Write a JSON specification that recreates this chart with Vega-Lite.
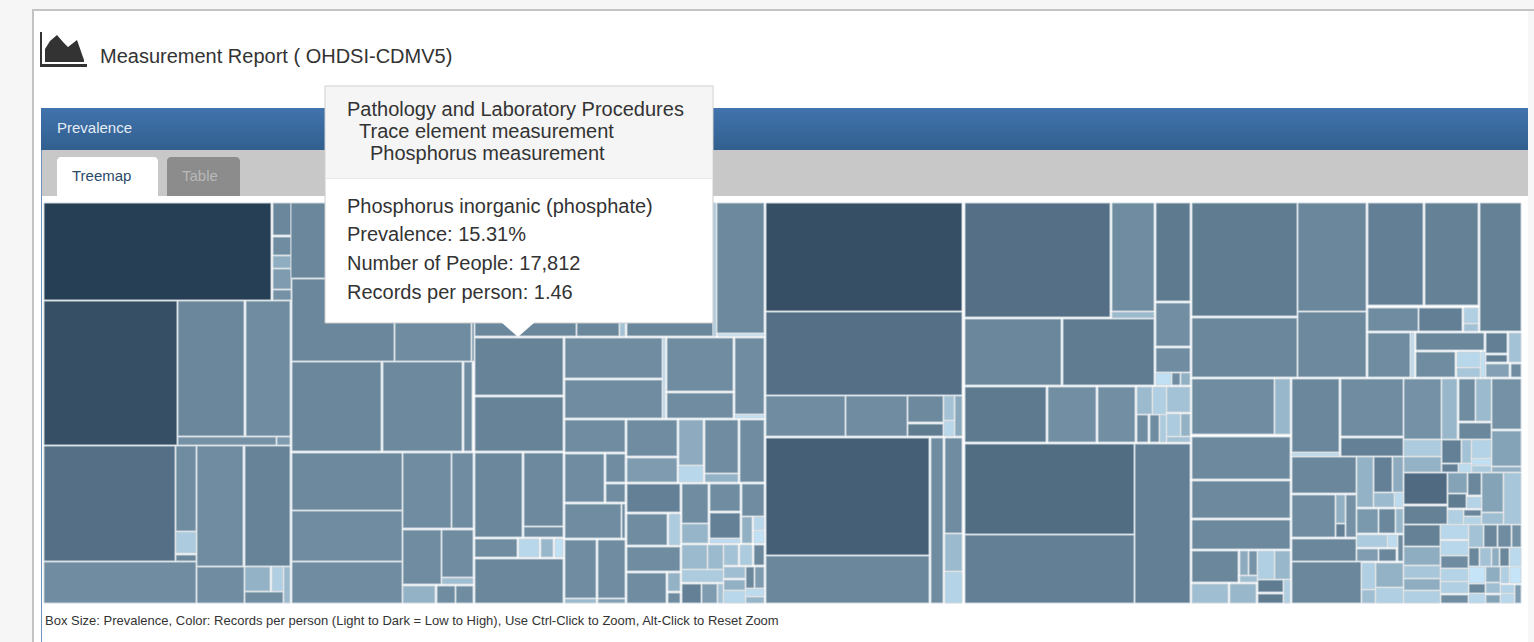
{"$schema":"https://vega.github.io/schema/vega-lite/v6.json","autosize":{"type":"fit","contains":"padding"},"width":1534,"height":642,"padding":0,"background":"#ffffff","config":{"view":{"stroke":null},"text":{"font":"Liberation Sans"}},
"datasets":{"cells":[
{"left":44,"right":271,"top":203,"bottom":300,"records":8},
{"left":273,"right":291,"top":203,"bottom":235,"records":4},{"left":273,"right":291,"top":237,"bottom":255,"records":3.8},{"left":273,"right":291,"top":256,"bottom":268,"records":2.5},{"left":273,"right":291,"top":269,"bottom":289,"records":3.2},{"left":273,"right":291,"top":290,"bottom":300,"records":3.6},
{"left":44,"right":177,"top":301,"bottom":445,"records":7.05},{"left":178,"right":244,"top":301,"bottom":436,"records":4},{"left":246,"right":290,"top":301,"bottom":436,"records":3.8},{"left":178,"right":276,"top":437,"bottom":445,"records":3.6},{"left":277,"right":290,"top":437,"bottom":445,"records":3.2},
{"left":44,"right":175,"top":446,"bottom":561,"records":5.2},{"left":176,"right":196,"top":446,"bottom":531,"records":3.8},{"left":176,"right":196,"top":532,"bottom":553,"records":1.6},{"left":176,"right":196,"top":555,"bottom":561,"records":4},{"left":44,"right":196,"top":562,"bottom":603,"records":3.8},
{"left":197,"right":243,"top":446,"bottom":566,"records":3.8},{"left":245,"right":290,"top":446,"bottom":566,"records":4.2},{"left":197,"right":244,"top":567,"bottom":603,"records":3.8},{"left":245,"right":270,"top":567,"bottom":591,"records":2.3},{"left":272,"right":283,"top":567,"bottom":591,"records":1.5},{"left":245,"right":283,"top":592,"bottom":603,"records":3.8},{"left":284,"right":290,"top":567,"bottom":603,"records":2},
{"left":291,"right":393,"top":203,"bottom":278,"records":4},{"left":393,"right":472,"top":203,"bottom":278,"records":4},{"left":292,"right":394,"top":279,"bottom":361,"records":4},{"left":395,"right":471,"top":279,"bottom":361,"records":3.8},{"left":472,"right":474,"top":279,"bottom":361,"records":3.8},
{"left":292,"right":381,"top":362,"bottom":451,"records":4},{"left":383,"right":462,"top":362,"bottom":451,"records":3.9},{"left":464,"right":472,"top":362,"bottom":451,"records":3.8},
{"left":292,"right":402,"top":453,"bottom":510,"records":3.9},{"left":292,"right":402,"top":511,"bottom":561,"records":3.8},{"left":292,"right":402,"top":562,"bottom":603,"records":3.8},
{"left":403,"right":451,"top":453,"bottom":528,"records":3.8},{"left":452,"right":473,"top":453,"bottom":528,"records":3.8},{"left":403,"right":441,"top":530,"bottom":584,"records":3.8},{"left":442,"right":473,"top":530,"bottom":577,"records":3.8},{"left":442,"right":473,"top":578,"bottom":584,"records":1.9},{"left":403,"right":435,"top":586,"bottom":603,"records":2.3},{"left":437,"right":455,"top":586,"bottom":603,"records":3.8},{"left":456,"right":473,"top":586,"bottom":603,"records":3.8},
{"left":475,"right":576,"top":203,"bottom":336,"records":4},{"left":577,"right":619,"top":203,"bottom":336,"records":4},{"left":620,"right":625,"top":203,"bottom":336,"records":1.8},{"left":627,"right":713,"top":203,"bottom":336,"records":4},{"left":713,"right":716,"top":203,"bottom":336,"records":1.6},{"left":717,"right":764,"top":203,"bottom":333,"records":3.9},{"left":718,"right":764,"top":334,"bottom":336,"records":1},
{"left":475,"right":563,"top":338,"bottom":395,"records":4.2},{"left":475,"right":563,"top":397,"bottom":451,"records":4.2},{"left":475,"right":522,"top":453,"bottom":537,"records":4},{"left":524,"right":563,"top":453,"bottom":526,"records":3.9},{"left":524,"right":563,"top":527,"bottom":537,"records":3.8},{"left":475,"right":517,"top":539,"bottom":557,"records":3.8},{"left":519,"right":539,"top":539,"bottom":557,"records":1.3},{"left":541,"right":553,"top":539,"bottom":557,"records":2.1},{"left":555,"right":563,"top":539,"bottom":557,"records":1.1},{"left":475,"right":563,"top":559,"bottom":603,"records":4},
{"left":565,"right":662,"top":338,"bottom":378,"records":3.8},{"left":565,"right":662,"top":380,"bottom":418,"records":3.8},{"left":663,"right":665,"top":338,"bottom":418,"records":1.2},{"left":667,"right":733,"top":338,"bottom":391,"records":3.8},{"left":667,"right":733,"top":393,"bottom":418,"records":3.8},{"left":735,"right":764,"top":338,"bottom":414,"records":3.8},{"left":735,"right":764,"top":415,"bottom":418,"records":1.1},
{"left":565,"right":625,"top":420,"bottom":452,"records":3.8},{"left":565,"right":604,"top":454,"bottom":502,"records":3.8},{"left":606,"right":625,"top":454,"bottom":482,"records":3.8},{"left":606,"right":625,"top":484,"bottom":502,"records":3.8},{"left":565,"right":621,"top":504,"bottom":538,"records":3.8},{"left":622,"right":625,"top":504,"bottom":538,"records":3.8},{"left":565,"right":596,"top":540,"bottom":598,"records":3.8},{"left":598,"right":625,"top":540,"bottom":598,"records":3.8},{"left":565,"right":596,"top":599,"bottom":603,"records":2},{"left":598,"right":625,"top":599,"bottom":603,"records":3},
{"left":627,"right":677,"top":420,"bottom":456,"records":3.8},{"left":627,"right":677,"top":458,"bottom":482,"records":3.2},{"left":679,"right":703,"top":420,"bottom":465,"records":2.6},{"left":679,"right":703,"top":466,"bottom":482,"records":1.3},{"left":705,"right":738,"top":420,"bottom":473,"records":3.8},{"left":705,"right":738,"top":474,"bottom":482,"records":2.3},{"left":740,"right":764,"top":420,"bottom":482,"records":3.8},
{"left":627,"right":680,"top":484,"bottom":512,"records":4.35},{"left":627,"right":667,"top":514,"bottom":545,"records":3.8},{"left":669,"right":680,"top":514,"bottom":545,"records":1.6},{"left":627,"right":680,"top":547,"bottom":571,"records":3.8},{"left":627,"right":666,"top":573,"bottom":603,"records":3.8},{"left":668,"right":680,"top":573,"bottom":591,"records":2.3},{"left":668,"right":680,"top":593,"bottom":603,"records":3.8},
{"left":682,"right":708,"top":484,"bottom":523,"records":3.8},{"left":682,"right":708,"top":524,"bottom":543,"records":2.2},{"left":710,"right":740,"top":484,"bottom":511,"records":3.8},{"left":710,"right":740,"top":513,"bottom":538,"records":4.35},{"left":710,"right":740,"top":539,"bottom":543,"records":1.2},{"left":742,"right":764,"top":484,"bottom":516,"records":3.8},{"left":742,"right":752,"top":517,"bottom":543,"records":2.4},{"left":754,"right":764,"top":517,"bottom":530,"records":1.3},{"left":754,"right":764,"top":531,"bottom":543,"records":1.1},
{"left":682,"right":707,"top":545,"bottom":569,"records":2},{"left":708,"right":723,"top":545,"bottom":569,"records":2},{"left":724,"right":738,"top":545,"bottom":565,"records":1.8},{"left":740,"right":752,"top":545,"bottom":565,"records":1.6},{"left":754,"right":764,"top":545,"bottom":565,"records":4},{"left":682,"right":723,"top":570,"bottom":582,"records":1.6},{"left":682,"right":701,"top":584,"bottom":603,"records":4.35},{"left":702,"right":717,"top":584,"bottom":603,"records":3.2},{"left":718,"right":723,"top":584,"bottom":603,"records":1.8},{"left":724,"right":745,"top":567,"bottom":578,"records":1.9},{"left":724,"right":745,"top":580,"bottom":590,"records":2.4},{"left":724,"right":745,"top":591,"bottom":603,"records":1.3},{"left":746,"right":754,"top":567,"bottom":588,"records":4},{"left":755,"right":764,"top":567,"bottom":588,"records":3.2},{"left":746,"right":764,"top":589,"bottom":596,"records":1.2},{"left":746,"right":764,"top":597,"bottom":603,"records":2.2},
{"left":766,"right":962,"top":203,"bottom":311,"records":7.05},{"left":766,"right":962,"top":312,"bottom":395,"records":5.2},{"left":766,"right":845,"top":396,"bottom":436,"records":3.8},{"left":846,"right":907,"top":396,"bottom":436,"records":3.8},{"left":908,"right":943,"top":396,"bottom":422,"records":3.9},{"left":908,"right":943,"top":424,"bottom":436,"records":4.6},{"left":944,"right":954,"top":396,"bottom":420,"records":1.8},{"left":944,"right":954,"top":421,"bottom":436,"records":1.3},{"left":955,"right":962,"top":396,"bottom":436,"records":2.7},
{"left":766,"right":929,"top":438,"bottom":555,"records":6.1},{"left":766,"right":929,"top":556,"bottom":603,"records":4},{"left":931,"right":943,"top":438,"bottom":603,"records":3.8},{"left":945,"right":962,"top":438,"bottom":533,"records":3.8},{"left":945,"right":962,"top":534,"bottom":571,"records":2},{"left":945,"right":962,"top":572,"bottom":603,"records":1.4},
{"left":965,"right":1110,"top":203,"bottom":317,"records":5.2},{"left":1112,"right":1154,"top":203,"bottom":311,"records":3.8},{"left":1112,"right":1154,"top":312,"bottom":318,"records":2},{"left":1156,"right":1190,"top":203,"bottom":301,"records":4.7},{"left":1156,"right":1190,"top":303,"bottom":346,"records":3.7},{"left":1156,"right":1190,"top":348,"bottom":372,"records":3.8},{"left":1156,"right":1171,"top":373,"bottom":385,"records":1.1},{"left":1172,"right":1180,"top":373,"bottom":385,"records":3.8},{"left":1181,"right":1190,"top":373,"bottom":385,"records":2.4},
{"left":965,"right":1061,"top":319,"bottom":385,"records":4},{"left":1063,"right":1154,"top":319,"bottom":385,"records":4.6},{"left":965,"right":1046,"top":387,"bottom":442,"records":4.7},{"left":1048,"right":1096,"top":387,"bottom":442,"records":3.7},{"left":1098,"right":1135,"top":387,"bottom":442,"records":3.7},{"left":1137,"right":1152,"top":387,"bottom":414,"records":2},{"left":1153,"right":1166,"top":387,"bottom":414,"records":1.5},{"left":1167,"right":1190,"top":387,"bottom":412,"records":1.8},{"left":1137,"right":1148,"top":415,"bottom":442,"records":3.8},{"left":1150,"right":1159,"top":415,"bottom":442,"records":3.8},{"left":1160,"right":1166,"top":415,"bottom":442,"records":1.6},{"left":1167,"right":1180,"top":414,"bottom":436,"records":1.6},{"left":1181,"right":1190,"top":414,"bottom":436,"records":2.3},{"left":1167,"right":1190,"top":437,"bottom":442,"records":1.8},
{"left":965,"right":1134,"top":444,"bottom":534,"records":5.4},{"left":965,"right":1134,"top":535,"bottom":603,"records":4.4},{"left":1135,"right":1190,"top":444,"bottom":603,"records":4.4},
{"left":1192,"right":1297,"top":203,"bottom":316,"records":4.6},{"left":1192,"right":1297,"top":318,"bottom":377,"records":4},{"left":1298,"right":1366,"top":203,"bottom":311,"records":4},{"left":1298,"right":1366,"top":312,"bottom":377,"records":3.9},{"left":1368,"right":1423,"top":203,"bottom":305,"records":4.4},{"left":1425,"right":1478,"top":203,"bottom":305,"records":4.3},{"left":1480,"right":1521,"top":203,"bottom":331,"records":4.3},{"left":1368,"right":1418,"top":308,"bottom":331,"records":3.8},{"left":1419,"right":1462,"top":308,"bottom":331,"records":4.4},{"left":1464,"right":1478,"top":308,"bottom":323,"records":1.5},{"left":1464,"right":1478,"top":324,"bottom":331,"records":1.8},
{"left":1368,"right":1410,"top":333,"bottom":377,"records":3.8},{"left":1411,"right":1414,"top":333,"bottom":377,"records":1.2},{"left":1416,"right":1484,"top":333,"bottom":350,"records":4},{"left":1416,"right":1455,"top":352,"bottom":377,"records":3.8},{"left":1457,"right":1480,"top":352,"bottom":367,"records":1.3},{"left":1457,"right":1480,"top":368,"bottom":377,"records":1.7},{"left":1481,"right":1485,"top":352,"bottom":377,"records":1.1},{"left":1486,"right":1507,"top":333,"bottom":353,"records":4.4},{"left":1486,"right":1507,"top":355,"bottom":362,"records":4.4},{"left":1509,"right":1521,"top":333,"bottom":362,"records":1.8},{"left":1486,"right":1509,"top":364,"bottom":377,"records":3},{"left":1511,"right":1521,"top":364,"bottom":377,"records":3.8},
{"left":1192,"right":1274,"top":379,"bottom":434,"records":3.8},{"left":1275,"right":1290,"top":379,"bottom":434,"records":2.1},{"left":1192,"right":1290,"top":437,"bottom":479,"records":3.9},{"left":1192,"right":1290,"top":481,"bottom":518,"records":3.9},{"left":1192,"right":1290,"top":520,"bottom":549,"records":3.9},{"left":1192,"right":1238,"top":551,"bottom":582,"records":4},{"left":1240,"right":1248,"top":551,"bottom":575,"records":2.6},{"left":1249,"right":1257,"top":551,"bottom":575,"records":3.5},{"left":1240,"right":1257,"top":576,"bottom":582,"records":1.9},{"left":1192,"right":1228,"top":584,"bottom":603,"records":1.9},{"left":1230,"right":1256,"top":584,"bottom":603,"records":2.1},{"left":1258,"right":1274,"top":551,"bottom":579,"records":1.5},{"left":1275,"right":1290,"top":551,"bottom":579,"records":2.1},{"left":1258,"right":1283,"top":580,"bottom":592,"records":4.6},{"left":1258,"right":1283,"top":594,"bottom":603,"records":4.6},{"left":1284,"right":1290,"top":580,"bottom":603,"records":1.5},
{"left":1292,"right":1339,"top":379,"bottom":452,"records":4},{"left":1292,"right":1339,"top":453,"bottom":456,"records":1.2},{"left":1341,"right":1403,"top":379,"bottom":436,"records":3.8},{"left":1341,"right":1403,"top":438,"bottom":456,"records":4.35},{"left":1292,"right":1356,"top":457,"bottom":493,"records":4},{"left":1292,"right":1335,"top":495,"bottom":537,"records":3.8},{"left":1336,"right":1345,"top":495,"bottom":523,"records":2.4},{"left":1336,"right":1345,"top":524,"bottom":537,"records":4.35},{"left":1346,"right":1356,"top":495,"bottom":537,"records":3.6},{"left":1292,"right":1356,"top":539,"bottom":561,"records":4},{"left":1292,"right":1361,"top":562,"bottom":603,"records":4},
{"left":1357,"right":1373,"top":457,"bottom":507,"records":2.3},{"left":1374,"right":1392,"top":457,"bottom":492,"records":4.35},{"left":1393,"right":1403,"top":457,"bottom":492,"records":2.6},{"left":1374,"right":1394,"top":493,"bottom":507,"records":2},{"left":1395,"right":1403,"top":493,"bottom":507,"records":1.2},{"left":1357,"right":1378,"top":509,"bottom":533,"records":3.3},{"left":1379,"right":1395,"top":509,"bottom":533,"records":4},{"left":1396,"right":1403,"top":509,"bottom":533,"records":2.1},{"left":1357,"right":1387,"top":535,"bottom":547,"records":1.6},{"left":1388,"right":1397,"top":535,"bottom":547,"records":1.2},{"left":1398,"right":1403,"top":535,"bottom":561,"records":3.8},{"left":1357,"right":1378,"top":549,"bottom":561,"records":3.15},{"left":1379,"right":1396,"top":549,"bottom":561,"records":4},{"left":1362,"right":1375,"top":563,"bottom":589,"records":1.5},{"left":1362,"right":1375,"top":590,"bottom":603,"records":1.9},{"left":1376,"right":1403,"top":563,"bottom":587,"records":2.3},{"left":1376,"right":1403,"top":588,"bottom":603,"records":1.5},
{"left":1404,"right":1441,"top":379,"bottom":439,"records":3.6},{"left":1442,"right":1457,"top":379,"bottom":439,"records":2.1},{"left":1459,"right":1475,"top":379,"bottom":421,"records":3.8},{"left":1476,"right":1491,"top":379,"bottom":421,"records":2},{"left":1459,"right":1491,"top":423,"bottom":439,"records":4},{"left":1492,"right":1521,"top":379,"bottom":429,"records":3.6},{"left":1492,"right":1521,"top":431,"bottom":466,"records":2.9},{"left":1492,"right":1521,"top":467,"bottom":472,"records":2.4},
{"left":1404,"right":1441,"top":440,"bottom":456,"records":1.6},{"left":1404,"right":1441,"top":457,"bottom":472,"records":2.3},{"left":1442,"right":1461,"top":440,"bottom":463,"records":4.35},{"left":1462,"right":1471,"top":440,"bottom":463,"records":1.8},{"left":1472,"right":1491,"top":440,"bottom":458,"records":1.4},{"left":1472,"right":1491,"top":459,"bottom":465,"records":1.1},{"left":1472,"right":1491,"top":466,"bottom":472,"records":1.6},{"left":1442,"right":1458,"top":464,"bottom":472,"records":4.35},{"left":1459,"right":1471,"top":464,"bottom":472,"records":1.2},
{"left":1404,"right":1447,"top":473,"bottom":504,"records":5.5},{"left":1404,"right":1447,"top":506,"bottom":524,"records":4.3},{"left":1448,"right":1467,"top":473,"bottom":493,"records":2.9},{"left":1468,"right":1481,"top":473,"bottom":495,"records":4},{"left":1448,"right":1466,"top":494,"bottom":508,"records":4.6},{"left":1467,"right":1481,"top":497,"bottom":508,"records":1.4},{"left":1448,"right":1463,"top":510,"bottom":524,"records":1.5},{"left":1464,"right":1481,"top":510,"bottom":516,"records":4},{"left":1464,"right":1481,"top":517,"bottom":524,"records":1.4},{"left":1482,"right":1503,"top":473,"bottom":512,"records":2.9},{"left":1482,"right":1503,"top":513,"bottom":524,"records":1.9},{"left":1504,"right":1521,"top":473,"bottom":524,"records":1.7},
{"left":1404,"right":1440,"top":525,"bottom":546,"records":4.3},{"left":1404,"right":1440,"top":547,"bottom":565,"records":2.5},{"left":1404,"right":1440,"top":566,"bottom":578,"records":1.7},{"left":1404,"right":1440,"top":579,"bottom":590,"records":2.5},{"left":1404,"right":1440,"top":591,"bottom":603,"records":1.5},
{"left":1441,"right":1468,"top":525,"bottom":539,"records":1.3},{"left":1441,"right":1468,"top":541,"bottom":555,"records":1.3},{"left":1441,"right":1468,"top":556,"bottom":568,"records":3.8},{"left":1441,"right":1468,"top":569,"bottom":581,"records":1.4},{"left":1441,"right":1468,"top":582,"bottom":593,"records":1.5},{"left":1441,"right":1468,"top":595,"bottom":603,"records":3.8},
{"left":1469,"right":1483,"top":525,"bottom":547,"records":1.8},{"left":1484,"right":1497,"top":525,"bottom":547,"records":4},{"left":1498,"right":1511,"top":525,"bottom":547,"records":3.8},{"left":1512,"right":1521,"top":525,"bottom":547,"records":3.6},{"left":1469,"right":1479,"top":548,"bottom":566,"records":4},{"left":1480,"right":1491,"top":548,"bottom":566,"records":1.8},{"left":1492,"right":1499,"top":548,"bottom":566,"records":2.5},{"left":1500,"right":1509,"top":548,"bottom":566,"records":4},{"left":1510,"right":1521,"top":548,"bottom":566,"records":1.25},
{"left":1469,"right":1485,"top":567,"bottom":583,"records":1},{"left":1469,"right":1485,"top":584,"bottom":593,"records":4},{"left":1469,"right":1485,"top":594,"bottom":603,"records":1.3},{"left":1486,"right":1500,"top":567,"bottom":582,"records":2.5},{"left":1486,"right":1500,"top":583,"bottom":593,"records":1.9},{"left":1486,"right":1500,"top":595,"bottom":603,"records":2.9},{"left":1501,"right":1509,"top":567,"bottom":583,"records":1.5},{"left":1510,"right":1521,"top":567,"bottom":583,"records":1},{"left":1501,"right":1514,"top":585,"bottom":593,"records":1.4},{"left":1501,"right":1514,"top":594,"bottom":603,"records":1.3},{"left":1515,"right":1521,"top":585,"bottom":603,"records":3.15}
]},
"encoding":{"x":{"field":"left","type":"quantitative","scale":{"domain":[0,1534],"nice":false,"zero":false},"axis":null},"y":{"field":"top","type":"quantitative","scale":{"domain":[642,0],"nice":false,"zero":false},"axis":null}},
"layer":[
{"data":{"values":[{"left":0,"right":1534,"top":0,"bottom":9},{"left":0,"right":32,"top":0,"bottom":642}]},"mark":{"type":"rect","color":"#f6f6f6"},"encoding":{"x2":{"field":"right"},"y2":{"field":"bottom"}}},
{"data":{"values":[{"left":32,"right":1534,"top":9,"bottom":11},{"left":32,"right":34,"top":9,"bottom":642}]},"mark":{"type":"rect","color":"#c4c4c4"},"encoding":{"x2":{"field":"right"},"y2":{"field":"bottom"}}},
{"data":{"values":[{"left":1528,"right":1534,"top":11,"bottom":642}]},"mark":{"type":"rect","color":"#f7f7f7"},"encoding":{"x2":{"field":"right"},"y2":{"field":"bottom"}}},
{"data":{"values":[{"left":41,"right":1528,"top":108,"bottom":150}]},"mark":{"type":"rect","color":{"gradient":"linear","x1":0,"y1":0,"x2":0,"y2":1,"stops":[{"offset":0,"color":"#4173ad"},{"offset":1,"color":"#315f8e"}]}},"encoding":{"x2":{"field":"right"},"y2":{"field":"bottom"}}},
{"data":{"values":[{"left":42,"right":1528,"top":150,"bottom":196}]},"mark":{"type":"rect","color":"#c8c8c8"},"encoding":{"x2":{"field":"right"},"y2":{"field":"bottom"}}},
{"data":{"values":[{"left":41,"right":42,"top":150,"bottom":642}]},"mark":{"type":"rect","color":"#6e93bd"},"encoding":{"x2":{"field":"right"},"y2":{"field":"bottom"}}},
{"data":{"values":[{"left":57,"right":158,"top":157,"bottom":197}]},"mark":{"type":"rect","color":"#ffffff","cornerRadiusTopLeft":4,"cornerRadiusTopRight":4},"encoding":{"x2":{"field":"right"},"y2":{"field":"bottom"}}},
{"data":{"values":[{"left":167,"right":240,"top":157,"bottom":196}]},"mark":{"type":"rect","color":"#8c8c8c","cornerRadiusTopLeft":4,"cornerRadiusTopRight":4},"encoding":{"x2":{"field":"right"},"y2":{"field":"bottom"}}},
{"data":{"name":"cells"},"mark":{"type":"rect","stroke":"#ccd7de","strokeWidth":1},"encoding":{"x2":{"field":"right"},"y2":{"field":"bottom"},"color":{"field":"records","type":"quantitative","scale":{"domain":[1,2,4,8],"range":["#c5e4f7","#9cbacd","#6a879c","#263f55"]},"legend":null}}},
{"data":{"values":[{"left":325,"right":713,"top":86,"bottom":323}]},"mark":{"type":"rect","color":"#ffffff","stroke":"#cccccc","strokeWidth":1},"encoding":{"x2":{"field":"right"},"y2":{"field":"bottom"}}},
{"data":{"values":[{"left":326,"right":712,"top":87,"bottom":178}]},"mark":{"type":"rect","color":"#f5f5f5"},"encoding":{"x2":{"field":"right"},"y2":{"field":"bottom"}}},
{"data":{"values":[{"left":326,"right":712,"top":178,"bottom":179}]},"mark":{"type":"rect","color":"#ebebeb"},"encoding":{"x2":{"field":"right"},"y2":{"field":"bottom"}}},
{"data":{"values":[{"left":501,"top":322,"bottom":322},{"left":518,"top":322,"bottom":337},{"left":535,"top":322,"bottom":322}]},"mark":{"type":"area","color":"#ffffff","orient":"vertical"},"encoding":{"y2":{"field":"bottom"}}},
{"data":{"values":[{"left":40,"right":42,"top":32,"bottom":67},{"left":40,"right":87,"top":64,"bottom":67}]},"mark":{"type":"rect","color":"#333333"},"encoding":{"x2":{"field":"right"},"y2":{"field":"bottom"}}},
{"data":{"values":[{"left":45,"top":49,"bottom":62},{"left":50,"top":41,"bottom":62},{"left":57,"top":35,"bottom":62},{"left":63,"top":42,"bottom":62},{"left":68,"top":47,"bottom":62},{"left":77,"top":40,"bottom":62},{"left":84,"top":60,"bottom":62}]},"mark":{"type":"area","color":"#333333","orient":"vertical"},"encoding":{"y2":{"field":"bottom"}}},
{"data":{"values":[{"left":100,"top":57,"label":"Measurement Report ( OHDSI-CDMV5)"}]},"mark":{"type":"text","align":"left","baseline":"middle","fontSize":20,"color":"#333333"},"encoding":{"text":{"field":"label"}}},
{"data":{"values":[{"left":57,"top":128,"label":"Prevalence"}]},"mark":{"type":"text","align":"left","baseline":"middle","fontSize":15,"color":"#e6edf5"},"encoding":{"text":{"field":"label"}}},
{"data":{"values":[{"left":72,"top":176,"label":"Treemap"}]},"mark":{"type":"text","align":"left","baseline":"middle","fontSize":15,"color":"#2a4a6b"},"encoding":{"text":{"field":"label"}}},
{"data":{"values":[{"left":182,"top":176,"label":"Table"}]},"mark":{"type":"text","align":"left","baseline":"middle","fontSize":15,"color":"#b8b8b8"},"encoding":{"text":{"field":"label"}}},
{"data":{"values":[{"left":347,"top":110,"label":"Pathology and Laboratory Procedures"},{"left":359,"top":132,"label":"Trace element measurement"},{"left":370,"top":154,"label":"Phosphorus measurement"},{"left":347,"top":207,"label":"Phosphorus inorganic (phosphate)"},{"left":347,"top":235,"label":"Prevalence: 15.31%"},{"left":347,"top":264,"label":"Number of People: 17,812"},{"left":347,"top":293,"label":"Records per person: 1.46"}]},"mark":{"type":"text","align":"left","baseline":"middle","fontSize":20,"color":"#333333"},"encoding":{"text":{"field":"label"}}},
{"data":{"values":[{"left":45,"top":621,"label":"Box Size: Prevalence, Color: Records per person (Light to Dark = Low to High), Use Ctrl-Click to Zoom, Alt-Click to Reset Zoom"}]},"mark":{"type":"text","align":"left","baseline":"middle","fontSize":13,"color":"#333333"},"encoding":{"text":{"field":"label"}}}
]}
